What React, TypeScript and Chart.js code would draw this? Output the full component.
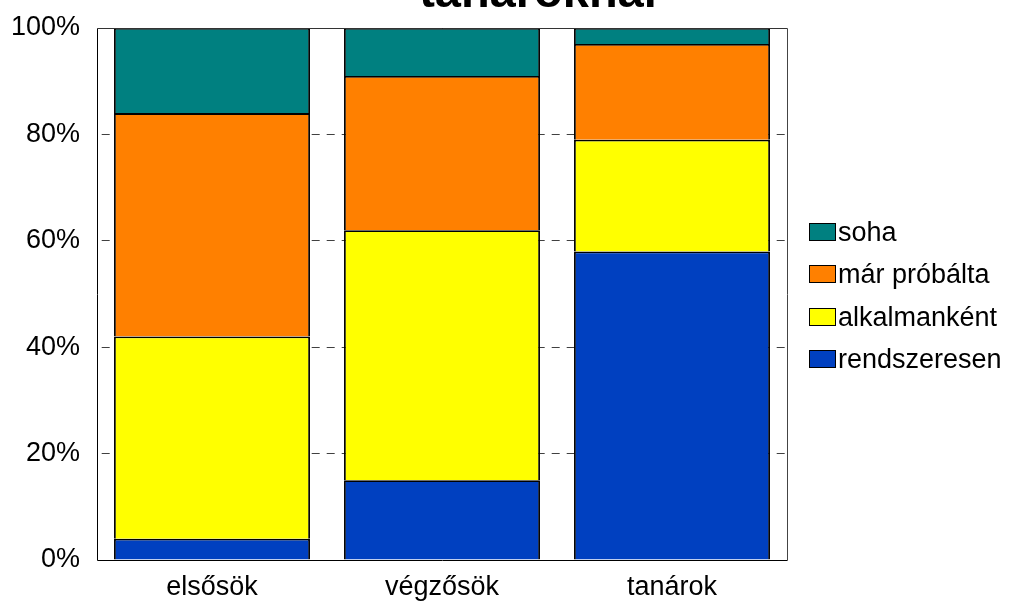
import React, { useEffect, useRef } from "react";
import { Chart, registerables } from "chart.js";

Chart.register(...registerables);

const categories = ["elsősök", "végzősök", "tanárok"];
const seriesNames = ["rendszeresen", "alkalmanként", "már próbálta", "soha"];
const rendszeresen = [4, 15, 58];
const alkalmankent = [38, 47, 21];
const marProbalta = [42, 29, 18];
const soha = [16, 9, 3];
const seriesColors = ["#0040C0", "#FFFF00", "#FF8000", "#008080"];
const yTicks = [0, 20, 40, 60, 80, 100];
const titleText = "tanároknál";

const FONT = "'Liberation Sans', Arial, sans-serif";

const framePlugin = {
  id: "frame",
  afterDatasetsDraw(chart: any) {
    const { ctx, chartArea: a } = chart;
    const l = Math.round(a.left) + 0.5;
    const r = Math.round(a.right) + 0.5;
    const t = Math.round(a.top) + 0.5;
    const b = Math.round(a.bottom) + 0.5;
    ctx.save();
    ctx.lineWidth = 1;
    ctx.strokeStyle = "#333";
    ctx.beginPath();
    ctx.moveTo(l, t);
    ctx.lineTo(r, t);
    ctx.stroke();
    ctx.strokeStyle = "#000";
    ctx.beginPath();
    ctx.moveTo(l, t);
    ctx.lineTo(l, b);
    ctx.lineTo(r, b);
    ctx.stroke();
    ctx.strokeStyle = "#444";
    ctx.beginPath();
    ctx.moveTo(r, t);
    ctx.lineTo(r, b);
    ctx.stroke();
    ctx.restore();
  },
  afterDraw(chart: any) {
    const { ctx } = chart;
    ctx.save();
    // title (partially cut off at the top)
    ctx.fillStyle = "#000";
    ctx.font = `bold 47px ${FONT}`;
    ctx.textAlign = "center";
    ctx.textBaseline = "alphabetic";
    ctx.fillText(titleText, 538, 7);
    // legend (reverse order)
    const ds = chart.data.datasets.slice().reverse();
    ctx.font = `27px ${FONT}`;
    ctx.textAlign = "left";
    ds.forEach((d: any, i: number) => {
      const cy = 231 + i * 42.3;
      const bx = 809.5;
      const by = Math.round(cy - 8) + 0.5;
      ctx.fillStyle = d.backgroundColor;
      ctx.fillRect(bx, by, 26, 17);
      ctx.strokeStyle = "#000";
      ctx.lineWidth = 1;
      ctx.strokeRect(bx, by, 26, 17);
      ctx.fillStyle = "#000";
      ctx.fillText(d.label, 838, by + 17);
    });
    ctx.restore();
  },
};

export default function App() {
  const ref = useRef<HTMLCanvasElement | null>(null);
  useEffect(() => {
    document.body.style.margin = "0";
    const values = [rendszeresen, alkalmankent, marProbalta, soha];
    const chart = new Chart(ref.current as HTMLCanvasElement, {
      type: "bar",
      data: {
        labels: categories,
        datasets: seriesNames.map((name, i) => ({
          label: name,
          data: values[i],
          backgroundColor: seriesColors[i],
          borderColor: "#000",
          borderWidth: 1.8,
          borderSkipped: "start",
          inflateAmount: 0,
          barPercentage: 0.852,
          categoryPercentage: 1,
        })),
      },
      options: {
        responsive: false,
        animation: false,
        devicePixelRatio: 1,
        layout: { padding: { left: 0, top: 28, right: 226, bottom: 0 } },
        plugins: {
          legend: { display: false },
          title: { display: false },
          tooltip: { enabled: false },
        },
        scales: {
          x: {
            stacked: true,
            grid: { display: false, drawTicks: false },
            border: { display: false },
            ticks: {
              color: "#000",
              font: { family: FONT, size: 27 },
              padding: 11,
              maxRotation: 0,
            },
            afterFit: (s: any) => {
              s.height = 41;
            },
          },
          y: {
            stacked: true,
            min: 0,
            max: 100,
            afterBuildTicks: (s: any) => {
              s.ticks = yTicks.map((v) => ({ value: v }));
            },
            grid: {
              drawTicks: false,
              color: (c: any) =>
                c.tick && (c.tick.value === 0 || c.tick.value === 100)
                  ? "rgba(0,0,0,0)"
                  : "#404040",
              lineWidth: 1,
            },
            border: { display: false, dash: [8, 7], dashOffset: 10.3 },
            ticks: {
              color: "#000",
              font: { family: FONT, size: 27 },
              padding: 17,
              callback: (v: any) => v + "%",
            },
            afterFit: (s: any) => {
              s.width = 97;
              s.paddingTop = 0;
              s.paddingBottom = 0;
            },
          },
        },
      },
      plugins: [framePlugin],
    });
    return () => chart.destroy();
  }, []);
  return (
    <div style={{ position: "absolute", left: 0, top: 0, width: 1013, height: 601 }}>
      <canvas ref={ref} width={1013} height={601} />
    </div>
  );
}
